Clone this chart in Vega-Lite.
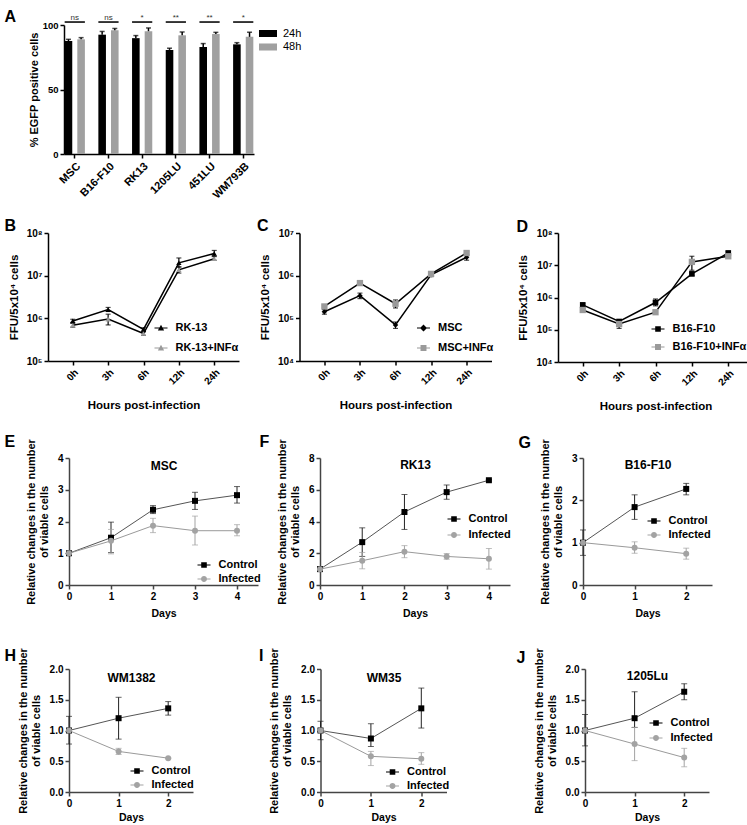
{
"$schema": "https://vega.github.io/schema/vega-lite/v6.json",
"padding": {"left": 3, "top": 8, "right": 0, "bottom": 0},
"config": {
  "font": "Liberation Sans",
  "view": {"stroke": null},
  "axis": {"grid": false, "domainColor": "#000", "domainWidth": 1.5, "tickColor": "#000", "tickWidth": 1.5, "tickSize": 4, "labelFont": "Liberation Sans", "labelFontWeight": "bold", "labelFontSize": 10, "labelColor": "#000", "labelPadding": 2, "labelFlush": false, "titleFont": "Liberation Sans", "titleFontWeight": "bold", "titleFontSize": 11, "titleColor": "#000"},
  "legend": {"labelFont": "Liberation Sans", "labelColor": "#000", "padding": 0}
},
"datasets": {
  "egfp": [
    {"cell": "MSC", "time": "24h", "v": 87.6, "hi": 88.9},
    {"cell": "MSC", "time": "48h", "v": 88.9, "hi": 90.2},
    {"cell": "B16-F10", "time": "24h", "v": 92.5, "hi": 95.0},
    {"cell": "B16-F10", "time": "48h", "v": 96.0, "hi": 97.3},
    {"cell": "RK13", "time": "24h", "v": 89.8, "hi": 91.8},
    {"cell": "RK13", "time": "48h", "v": 95.2, "hi": 97.7},
    {"cell": "1205LU", "time": "24h", "v": 80.7, "hi": 82.0},
    {"cell": "1205LU", "time": "48h", "v": 92.0, "hi": 94.6},
    {"cell": "451LU", "time": "24h", "v": 83.0, "hi": 85.6},
    {"cell": "451LU", "time": "48h", "v": 93.0, "hi": 94.3},
    {"cell": "WM793B", "time": "24h", "v": 85.0, "hi": 86.3},
    {"cell": "WM793B", "time": "48h", "v": 90.8, "hi": 94.4}
  ],
  "sig": [
    {"cell": "MSC", "label": "ns"},
    {"cell": "B16-F10", "label": "ns"},
    {"cell": "RK13", "label": "*"},
    {"cell": "1205LU", "label": "**"},
    {"cell": "451LU", "label": "**"},
    {"cell": "WM793B", "label": "*"}
  ],
  "ffu": [
    {"panel": "B", "series": "RK-13", "time": "0h", "t": 0, "v": 8.7e5, "lo": 8.0e5, "hi": 9.5e5},
    {"panel": "B", "series": "RK-13", "time": "3h", "t": 3, "v": 1.6e6, "lo": 1.45e6, "hi": 1.8e6},
    {"panel": "B", "series": "RK-13", "time": "6h", "t": 6, "v": 5.5e5, "lo": 5.0e5, "hi": 6.0e5},
    {"panel": "B", "series": "RK-13", "time": "12h", "t": 12, "v": 2.0e7, "lo": 1.6e7, "hi": 2.6e7},
    {"panel": "B", "series": "RK-13", "time": "24h", "t": 24, "v": 3.3e7, "lo": 2.9e7, "hi": 3.9e7},
    {"panel": "B", "series": "RK-13+INFα", "time": "0h", "t": 0, "v": 6.9e5, "lo": 6.2e5, "hi": 7.6e5},
    {"panel": "B", "series": "RK-13+INFα", "time": "3h", "t": 3, "v": 9.6e5, "lo": 7.0e5, "hi": 1.25e6},
    {"panel": "B", "series": "RK-13+INFα", "time": "6h", "t": 6, "v": 4.4e5, "lo": 4.0e5, "hi": 4.8e5},
    {"panel": "B", "series": "RK-13+INFα", "time": "12h", "t": 12, "v": 1.37e7, "lo": 1.15e7, "hi": 1.6e7},
    {"panel": "B", "series": "RK-13+INFα", "time": "24h", "t": 24, "v": 2.5e7, "lo": 2.3e7, "hi": 2.8e7},
    {"panel": "C", "series": "MSC", "time": "0h", "t": 0, "v": 1.43e5, "lo": 1.25e5, "hi": 1.6e5},
    {"panel": "C", "series": "MSC", "time": "3h", "t": 3, "v": 3.4e5, "lo": 2.9e5, "hi": 3.9e5},
    {"panel": "C", "series": "MSC", "time": "6h", "t": 6, "v": 7.0e4, "lo": 5.8e4, "hi": 8.2e4},
    {"panel": "C", "series": "MSC", "time": "12h", "t": 12, "v": 1.05e6, "lo": 9.5e5, "hi": 1.15e6},
    {"panel": "C", "series": "MSC", "time": "24h", "t": 24, "v": 2.7e6, "lo": 2.3e6, "hi": 3.1e6},
    {"panel": "C", "series": "MSC+INFα", "time": "0h", "t": 0, "v": 1.9e5, "lo": 1.75e5, "hi": 2.05e5},
    {"panel": "C", "series": "MSC+INFα", "time": "3h", "t": 3, "v": 6.7e5, "lo": 6.0e5, "hi": 7.5e5},
    {"panel": "C", "series": "MSC+INFα", "time": "6h", "t": 6, "v": 2.2e5, "lo": 1.75e5, "hi": 2.7e5},
    {"panel": "C", "series": "MSC+INFα", "time": "12h", "t": 12, "v": 1.1e6, "lo": 1.0e6, "hi": 1.2e6},
    {"panel": "C", "series": "MSC+INFα", "time": "24h", "t": 24, "v": 3.4e6, "lo": 3.1e6, "hi": 3.7e6},
    {"panel": "D", "series": "B16-F10", "time": "0h", "t": 0, "v": 5.9e5, "lo": 5.5e5, "hi": 6.4e5},
    {"panel": "D", "series": "B16-F10", "time": "3h", "t": 3, "v": 1.8e5, "lo": 1.55e5, "hi": 2.05e5},
    {"panel": "D", "series": "B16-F10", "time": "6h", "t": 6, "v": 7.0e5, "lo": 5.5e5, "hi": 9.0e5},
    {"panel": "D", "series": "B16-F10", "time": "12h", "t": 12, "v": 5.4e6, "lo": 4.8e6, "hi": 6.0e6},
    {"panel": "D", "series": "B16-F10", "time": "24h", "t": 24, "v": 2.4e7, "lo": 2.2e7, "hi": 2.7e7},
    {"panel": "D", "series": "B16-F10+INFα", "time": "0h", "t": 0, "v": 4.1e5, "lo": 3.8e5, "hi": 4.5e5},
    {"panel": "D", "series": "B16-F10+INFα", "time": "3h", "t": 3, "v": 1.5e5, "lo": 1.1e5, "hi": 1.9e5},
    {"panel": "D", "series": "B16-F10+INFα", "time": "6h", "t": 6, "v": 3.5e5, "lo": 3.3e5, "hi": 3.8e5},
    {"panel": "D", "series": "B16-F10+INFα", "time": "12h", "t": 12, "v": 1.27e7, "lo": 7.0e6, "hi": 1.9e7},
    {"panel": "D", "series": "B16-F10+INFα", "time": "24h", "t": 24, "v": 1.9e7, "lo": 1.75e7, "hi": 2.1e7}
  ],
  "viab": [
    {"panel": "E", "series": "Control", "day": 0, "v": 1},
    {"panel": "E", "series": "Control", "day": 1, "v": 1.49, "lo": 1.02, "hi": 1.98},
    {"panel": "E", "series": "Control", "day": 2, "v": 2.37, "lo": 2.25, "hi": 2.5},
    {"panel": "E", "series": "Control", "day": 3, "v": 2.65, "lo": 2.38, "hi": 2.92},
    {"panel": "E", "series": "Control", "day": 4, "v": 2.83, "lo": 2.58, "hi": 3.1},
    {"panel": "E", "series": "Infected", "day": 0, "v": 1},
    {"panel": "E", "series": "Infected", "day": 1, "v": 1.39, "lo": 0.98, "hi": 1.75},
    {"panel": "E", "series": "Infected", "day": 2, "v": 1.87, "lo": 1.65, "hi": 2.1},
    {"panel": "E", "series": "Infected", "day": 3, "v": 1.71, "lo": 1.26, "hi": 2.17},
    {"panel": "E", "series": "Infected", "day": 4, "v": 1.71, "lo": 1.55, "hi": 1.9},
    {"panel": "F", "series": "Control", "day": 0, "v": 1},
    {"panel": "F", "series": "Control", "day": 1, "v": 2.7, "lo": 1.8, "hi": 3.6},
    {"panel": "F", "series": "Control", "day": 2, "v": 4.6, "lo": 3.5, "hi": 5.7},
    {"panel": "F", "series": "Control", "day": 3, "v": 5.85, "lo": 5.4, "hi": 6.3},
    {"panel": "F", "series": "Control", "day": 4, "v": 6.6, "lo": 6.55, "hi": 6.65},
    {"panel": "F", "series": "Infected", "day": 0, "v": 1},
    {"panel": "F", "series": "Infected", "day": 1, "v": 1.53, "lo": 1.02, "hi": 2.05},
    {"panel": "F", "series": "Infected", "day": 2, "v": 2.1, "lo": 1.72, "hi": 2.48},
    {"panel": "F", "series": "Infected", "day": 3, "v": 1.8, "lo": 1.62, "hi": 1.98},
    {"panel": "F", "series": "Infected", "day": 4, "v": 1.65, "lo": 1.0, "hi": 2.3},
    {"panel": "G", "series": "Control", "day": 0, "v": 1, "lo": 0.7, "hi": 1.3},
    {"panel": "G", "series": "Control", "day": 1, "v": 1.84, "lo": 1.55, "hi": 2.13},
    {"panel": "G", "series": "Control", "day": 2, "v": 2.27, "lo": 2.13, "hi": 2.4},
    {"panel": "G", "series": "Infected", "day": 0, "v": 1},
    {"panel": "G", "series": "Infected", "day": 1, "v": 0.88, "lo": 0.75, "hi": 1.02},
    {"panel": "G", "series": "Infected", "day": 2, "v": 0.74, "lo": 0.61, "hi": 0.87},
    {"panel": "H", "series": "Control", "day": 0, "v": 1, "lo": 0.78, "hi": 1.23},
    {"panel": "H", "series": "Control", "day": 1, "v": 1.2, "lo": 0.86, "hi": 1.54},
    {"panel": "H", "series": "Control", "day": 2, "v": 1.36, "lo": 1.25, "hi": 1.47},
    {"panel": "H", "series": "Infected", "day": 0, "v": 1},
    {"panel": "H", "series": "Infected", "day": 1, "v": 0.66, "lo": 0.61, "hi": 0.71},
    {"panel": "H", "series": "Infected", "day": 2, "v": 0.55, "lo": 0.54, "hi": 0.56},
    {"panel": "I", "series": "Control", "day": 0, "v": 1, "lo": 0.85, "hi": 1.15},
    {"panel": "I", "series": "Control", "day": 1, "v": 0.87, "lo": 0.74, "hi": 1.11},
    {"panel": "I", "series": "Control", "day": 2, "v": 1.36, "lo": 1.04, "hi": 1.69},
    {"panel": "I", "series": "Infected", "day": 0, "v": 1},
    {"panel": "I", "series": "Infected", "day": 1, "v": 0.58, "lo": 0.43, "hi": 0.66},
    {"panel": "I", "series": "Infected", "day": 2, "v": 0.54, "lo": 0.45, "hi": 0.64},
    {"panel": "J", "series": "Control", "day": 0, "v": 1, "lo": 0.75, "hi": 1.26},
    {"panel": "J", "series": "Control", "day": 1, "v": 1.2, "lo": 1.05, "hi": 1.63},
    {"panel": "J", "series": "Control", "day": 2, "v": 1.63, "lo": 1.5, "hi": 1.76},
    {"panel": "J", "series": "Infected", "day": 0, "v": 1},
    {"panel": "J", "series": "Infected", "day": 1, "v": 0.78, "lo": 0.51, "hi": 1.05},
    {"panel": "J", "series": "Infected", "day": 2, "v": 0.56, "lo": 0.41, "hi": 0.71}
  ]
},
"resolve": {"scale": {"color": "independent", "shape": "independent"}},
"spacing": 21,
"vconcat": [
 {"resolve": {"scale": {"color": "independent", "shape": "independent"}},
  "spacing": 16,
  "vconcat": [
   {"resolve": {"scale": {"color": "independent", "shape": "independent"}},
    "spacing": 0,
    "hconcat": [
     {"width": 1, "height": 1, "data": {"values": []}, "mark": "point"},
     {"width": 190, "height": 129,
      "data": {"name": "egfp"},
      "resolve": {"axis": {"x": "independent"}},
      "layer": [
       {"mark": {"type": "bar"},
        "encoding": {
         "x": {"field": "cell", "type": "nominal", "sort": ["MSC","B16-F10","RK13","1205LU","451LU","WM793B"], "scale": {"paddingInner": 0.4, "paddingOuter": 0.02}, "title": null, "axis": {"labelAngle": -45, "labelFontSize": 11}},
         "xOffset": {"field": "time", "type": "nominal", "scale": {"domain": ["24h","48h"], "paddingInner": 0.4}},
         "y": {"field": "v", "type": "quantitative", "scale": {"domain": [0,100], "nice": false}, "title": "% EGFP positive cells", "axis": {"values": [0,50,100], "labelFontSize": 9.5, "titlePadding": 3}},
         "color": {"field": "time", "type": "nominal", "scale": {"domain": ["24h","48h"], "range": ["#000000","#a0a0a0"]},
          "legend": {"orient": "none", "legendX": 198.5, "legendY": 3, "title": null, "symbolType": "M-2,-0.78H2V0.78H-2Z", "symbolSize": 81, "symbolStrokeWidth": 0, "labelFontSize": 11, "labelFontWeight": "normal", "labelOffset": 9.5, "rowPadding": 1.5}}
        }},
       {"mark": {"type": "rule", "color": "#000", "strokeWidth": 1.5},
        "encoding": {
         "x": {"field": "cell", "type": "nominal", "sort": ["MSC","B16-F10","RK13","1205LU","451LU","WM793B"], "axis": null},
         "xOffset": {"field": "time", "type": "nominal", "scale": {"domain": ["24h","48h"], "paddingInner": 0.4}},
         "y": {"field": "v", "type": "quantitative", "title": "% EGFP positive cells"},
         "y2": {"field": "hi"}
        }},
       {"mark": {"type": "tick", "color": "#000", "thickness": 1.5, "size": 5},
        "encoding": {
         "x": {"field": "cell", "type": "nominal", "sort": ["MSC","B16-F10","RK13","1205LU","451LU","WM793B"], "axis": null},
         "xOffset": {"field": "time", "type": "nominal", "scale": {"domain": ["24h","48h"], "paddingInner": 0.4}},
         "y": {"field": "hi", "type": "quantitative", "title": "% EGFP positive cells"}
        }},
       {"data": {"name": "sig"},
        "mark": {"type": "bar", "color": "#000"},
        "encoding": {
         "x": {"field": "cell", "type": "nominal", "sort": ["MSC","B16-F10","RK13","1205LU","451LU","WM793B"], "axis": null},
         "y": {"datum": 101.7, "type": "quantitative", "title": "% EGFP positive cells"},
         "y2": {"datum": 102.9}
        }},
       {"data": {"name": "sig"},
        "mark": {"type": "text", "fontSize": 8, "baseline": "alphabetic", "color": "#333333"},
        "encoding": {
         "x": {"field": "cell", "type": "nominal", "sort": ["MSC","B16-F10","RK13","1205LU","451LU","WM793B"], "axis": {"orient": "top", "domain": false, "ticks": false, "labels": false, "title": "A", "titleX": -60, "titleY": -4, "titleAngle": 0, "titleAlign": "left", "titleBaseline": "alphabetic", "titleFontSize": 16}},
         "y": {"datum": 104, "type": "quantitative", "title": "% EGFP positive cells"},
         "text": {"field": "label"}
        }}
      ]
     }
    ]
   },
   {"resolve": {"scale": {"color": "independent", "shape": "independent"}},
    "spacing": 0,
    "hconcat": [
     {"width": 1, "height": 1, "data": {"values": []}, "mark": "point"},
     {"resolve": {"scale": {"color": "independent", "shape": "independent"}},
      "spacing": 22,
      "hconcat": [
       {"resolve": {"scale": {"color": "independent", "shape": "independent"}},
        "spacing": 17.5,
        "hconcat": [
         {"width": 191, "height": 128,
          "data": {"name": "ffu"},
          "transform": [{"filter": "datum.panel === 'B'"}],
          "resolve": {"axis": {"x": "independent"}},
          "layer": [
           {"mark": {"type": "line", "color": "#000", "strokeWidth": 1.5},
            "encoding": {
             "x": {"field": "time", "type": "ordinal", "sort": ["0h","3h","6h","12h","24h"], "scale": {"type": "point", "padding": 0.7}, "axis": {"labelAngle": -45, "title": "Hours post-infection", "titleFontSize": 11.5, "titlePadding": 13}},
             "y": {"field": "v", "type": "quantitative", "scale": {"type": "log", "domain": [1e5, 1e8], "nice": false}, "title": "FFU/5x10⁴ cells", "axis": {"values": [1e5, 1e6, 1e7, 1e8], "labelExpr": "'10' + ['⁰','¹','²','³','⁴','⁵','⁶','⁷','⁸','⁹'][round(log(datum.value)/LN10)]", "titleFontSize": 11.5, "titlePadding": 7}},
             "detail": {"field": "series", "type": "nominal"}, "order": {"field": "t", "type": "quantitative"}}},
           {"mark": {"type": "errorbar", "color": "#000", "ticks": {"size": 5}, "thickness": 1.2},
            "encoding": {
             "x": {"field": "time", "type": "ordinal", "sort": ["0h","3h","6h","12h","24h"], "axis": null},
             "y": {"field": "lo", "type": "quantitative", "title": "FFU/5x10⁴ cells"}, "y2": {"field": "hi"}}},
           {"transform": [{"filter": "datum.series === 'RK-13'"}],
            "mark": {"type": "point", "filled": true, "opacity": 1, "size": 28, "shape": "triangle-up", "color": "#000000"},
            "encoding": {
             "x": {"field": "time", "type": "ordinal", "sort": ["0h","3h","6h","12h","24h"], "axis": {"orient": "top", "domain": false, "ticks": false, "labels": false, "title": "B", "titleX": -44, "titleY": -3, "titleAngle": 0, "titleAlign": "left", "titleBaseline": "alphabetic", "titleFontSize": 16}},
             "y": {"field": "v", "type": "quantitative", "title": "FFU/5x10⁴ cells"}}},
           {"transform": [{"filter": "datum.series === 'RK-13+INFα'"}],
            "mark": {"type": "point", "filled": true, "opacity": 1, "size": 28, "shape": "triangle-up", "color": "#9a9a9a"},
            "encoding": {
             "x": {"field": "time", "type": "ordinal", "sort": ["0h","3h","6h","12h","24h"], "axis": null},
             "y": {"field": "v", "type": "quantitative", "title": "FFU/5x10⁴ cells"}}},
           {"transform": [{"filter": "false"}],
            "mark": {"type": "point", "filled": true, "opacity": 1},
            "encoding": {
             "shape": {"field": "series", "type": "nominal", "scale": {"domain": ["RK-13","RK-13+INFα"], "range": ["M-1.86,-0.17H1.86V0.17H-1.86Z M0,-0.95L0.9,0.7H-0.9Z","M-1.86,-0.17H1.86V0.17H-1.86Z M0,-0.95L0.9,0.7H-0.9Z"]}, "legend": null},
             "color": {"field": "series", "type": "nominal", "scale": {"domain": ["RK-13","RK-13+INFα"], "range": ["#000000","#9a9a9a"]},
              "legend": {"orient": "none", "legendX": 107.5, "legendY": 89.5, "title": null, "labelFontSize": 11, "labelFontWeight": "bold", "symbolSize": 49, "symbolStrokeWidth": 0, "rowPadding": 8, "labelOffset": 9}}}}
          ]
         },
         {"width": 192, "height": 128,
          "data": {"name": "ffu"},
          "transform": [{"filter": "datum.panel === 'C'"}],
          "resolve": {"axis": {"x": "independent"}},
          "layer": [
           {"mark": {"type": "line", "color": "#000", "strokeWidth": 1.5},
            "encoding": {
             "x": {"field": "time", "type": "ordinal", "sort": ["0h","3h","6h","12h","24h"], "scale": {"type": "point", "padding": 0.7}, "axis": {"labelAngle": -45, "title": "Hours post-infection", "titleFontSize": 11.5, "titlePadding": 13}},
             "y": {"field": "v", "type": "quantitative", "scale": {"type": "log", "domain": [1e4, 1e7], "nice": false}, "title": "FFU/5x10⁴ cells", "axis": {"values": [1e4, 1e5, 1e6, 1e7], "labelExpr": "'10' + ['⁰','¹','²','³','⁴','⁵','⁶','⁷','⁸','⁹'][round(log(datum.value)/LN10)]", "titleFontSize": 11.5, "titlePadding": 7}},
             "detail": {"field": "series", "type": "nominal"}, "order": {"field": "t", "type": "quantitative"}}},
           {"mark": {"type": "errorbar", "color": "#000", "ticks": {"size": 5}, "thickness": 1.2},
            "encoding": {
             "x": {"field": "time", "type": "ordinal", "sort": ["0h","3h","6h","12h","24h"], "axis": null},
             "y": {"field": "lo", "type": "quantitative", "title": "FFU/5x10⁴ cells"}, "y2": {"field": "hi"}}},
           {"transform": [{"filter": "datum.series === 'MSC'"}],
            "mark": {"type": "point", "filled": true, "opacity": 1, "size": 30, "shape": "diamond", "color": "#000000"},
            "encoding": {
             "x": {"field": "time", "type": "ordinal", "sort": ["0h","3h","6h","12h","24h"], "axis": {"orient": "top", "domain": false, "ticks": false, "labels": false, "title": "C", "titleX": -43, "titleY": -3, "titleAngle": 0, "titleAlign": "left", "titleBaseline": "alphabetic", "titleFontSize": 16}},
             "y": {"field": "v", "type": "quantitative", "title": "FFU/5x10⁴ cells"}}},
           {"transform": [{"filter": "datum.series === 'MSC+INFα'"}],
            "mark": {"type": "point", "filled": true, "opacity": 1, "size": 40, "shape": "square", "color": "#9a9a9a"},
            "encoding": {
             "x": {"field": "time", "type": "ordinal", "sort": ["0h","3h","6h","12h","24h"], "axis": null},
             "y": {"field": "v", "type": "quantitative", "title": "FFU/5x10⁴ cells"}}},
           {"transform": [{"filter": "false"}],
            "mark": {"type": "point", "filled": true, "opacity": 1},
            "encoding": {
             "shape": {"field": "series", "type": "nominal", "scale": {"domain": ["MSC","MSC+INFα"], "range": ["M-1.86,-0.17H1.86V0.17H-1.86Z M0,-1L1,0L0,1L-1,0Z","M-1.86,-0.17H1.86V0.17H-1.86Z M-0.85,-0.85H0.85V0.85H-0.85Z"]}, "legend": null},
             "color": {"field": "series", "type": "nominal", "scale": {"domain": ["MSC","MSC+INFα"], "range": ["#000000","#9a9a9a"]},
              "legend": {"orient": "none", "legendX": 118.5, "legendY": 89.5, "title": null, "labelFontSize": 11, "labelFontWeight": "bold", "symbolSize": 49, "symbolStrokeWidth": 0, "rowPadding": 8, "labelOffset": 9}}}}
          ]
         }
        ]
       },
       {"width": 195, "height": 129,
        "data": {"name": "ffu"},
        "transform": [{"filter": "datum.panel === 'D'"}],
        "resolve": {"axis": {"x": "independent"}},
        "layer": [
         {"mark": {"type": "line", "color": "#000", "strokeWidth": 1.5},
          "encoding": {
           "x": {"field": "time", "type": "ordinal", "sort": ["0h","3h","6h","12h","24h"], "scale": {"type": "point", "padding": 0.68}, "axis": {"labelAngle": -45, "title": "Hours post-infection", "titleFontSize": 11.5, "titlePadding": 13}},
           "y": {"field": "v", "type": "quantitative", "scale": {"type": "log", "domain": [1e4, 1e8], "nice": false}, "title": "FFU/5x10⁴ cells", "axis": {"values": [1e4, 1e5, 1e6, 1e7, 1e8], "labelExpr": "'10' + ['⁰','¹','²','³','⁴','⁵','⁶','⁷','⁸','⁹'][round(log(datum.value)/LN10)]", "titleFontSize": 11.5, "titlePadding": 7}},
           "detail": {"field": "series", "type": "nominal"}, "order": {"field": "t", "type": "quantitative"}}},
         {"mark": {"type": "errorbar", "color": "#000", "ticks": {"size": 5}, "thickness": 1.2},
          "encoding": {
           "x": {"field": "time", "type": "ordinal", "sort": ["0h","3h","6h","12h","24h"], "axis": null},
           "y": {"field": "lo", "type": "quantitative", "title": "FFU/5x10⁴ cells"}, "y2": {"field": "hi"}}},
         {"transform": [{"filter": "datum.series === 'B16-F10'"}],
          "mark": {"type": "point", "filled": true, "opacity": 1, "size": 32, "shape": "square", "color": "#000000"},
          "encoding": {
           "x": {"field": "time", "type": "ordinal", "sort": ["0h","3h","6h","12h","24h"], "axis": {"orient": "top", "domain": false, "ticks": false, "labels": false, "title": "D", "titleX": -42, "titleY": -2, "titleAngle": 0, "titleAlign": "left", "titleBaseline": "alphabetic", "titleFontSize": 16}},
           "y": {"field": "v", "type": "quantitative", "title": "FFU/5x10⁴ cells"}}},
         {"transform": [{"filter": "datum.series === 'B16-F10+INFα'"}],
          "mark": {"type": "point", "filled": true, "opacity": 1, "size": 40, "shape": "square", "color": "#9a9a9a"},
          "encoding": {
           "x": {"field": "time", "type": "ordinal", "sort": ["0h","3h","6h","12h","24h"], "axis": null},
           "y": {"field": "v", "type": "quantitative", "title": "FFU/5x10⁴ cells"}}},
         {"transform": [{"filter": "false"}],
          "mark": {"type": "point", "filled": true, "opacity": 1},
          "encoding": {
           "shape": {"field": "series", "type": "nominal", "scale": {"domain": ["B16-F10","B16-F10+INFα"], "range": ["M-1.86,-0.17H1.86V0.17H-1.86Z M-0.8,-0.8H0.8V0.8H-0.8Z","M-1.86,-0.17H1.86V0.17H-1.86Z M-0.85,-0.85H0.85V0.85H-0.85Z"]}, "legend": null},
           "color": {"field": "series", "type": "nominal", "scale": {"domain": ["B16-F10","B16-F10+INFα"], "range": ["#000000","#9a9a9a"]},
            "legend": {"orient": "none", "legendX": 94.5, "legendY": 90.5, "title": null, "labelFontSize": 11, "labelFontWeight": "bold", "symbolSize": 49, "symbolStrokeWidth": 0, "rowPadding": 6, "labelOffset": 9}}}}
        ]
       }
      ]
     }
    ]
   }
  ]
 },
 {"resolve": {"scale": {"color": "independent", "shape": "independent"}},
  "spacing": 28,
  "vconcat": [
   {"resolve": {"scale": {"color": "independent", "shape": "independent"}},
    "spacing": 0,
    "hconcat": [
     {"width": 1, "height": 1, "data": {"values": []}, "mark": "point"},
     {"resolve": {"scale": {"color": "independent", "shape": "independent"}},
      "spacing": 6,
      "hconcat": [
       {"resolve": {"scale": {"color": "independent", "shape": "independent"}},
        "spacing": -3,
        "hconcat": [
         {"width": 189, "height": 127,
          "data": {"name": "viab"},
          "transform": [{"filter": "datum.panel === 'E'"}],
          "resolve": {"axis": {"x": "independent", "y": "independent"}},
          "layer": [
           {"transform": [{"filter": "datum.series === 'Control'"}],
            "mark": {"type": "line", "color": "#555555", "strokeWidth": 1},
            "encoding": {
             "x": {"field": "day", "type": "quantitative", "scale": {"domain": [0, 4.5], "nice": false}, "axis": {"values": [0,1,2,3,4], "format": "d", "title": "Days", "domainColor": "#444", "tickColor": "#444", "titleFontSize": 10.5, "titlePadding": 7}},
             "y": {"field": "v", "type": "quantitative", "scale": {"domain": [0, 4], "nice": false}, "title": ["Relative changes in the number", "of viable cells"], "axis": {"values": [0,1,2,3,4], "domainColor": "#444", "tickColor": "#444", "titlePadding": 8, "titleLineHeight": 13}}}},
           {"transform": [{"filter": "datum.series === 'Infected'"}],
            "mark": {"type": "line", "color": "#9a9a9a", "strokeWidth": 1},
            "encoding": {"x": {"field": "day", "type": "quantitative", "axis": null}, "y": {"field": "v", "type": "quantitative", "axis": null}}},
           {"transform": [{"filter": "datum.series === 'Control' && isValid(datum.lo)"}],
            "mark": {"type": "errorbar", "color": "#222222", "ticks": {"size": 6}, "thickness": 1},
            "encoding": {"x": {"field": "day", "type": "quantitative", "axis": null}, "y": {"field": "lo", "type": "quantitative", "axis": null}, "y2": {"field": "hi"}}},
           {"transform": [{"filter": "datum.series === 'Infected' && isValid(datum.lo)"}],
            "mark": {"type": "errorbar", "color": "#a3a3a3", "ticks": {"size": 6}, "thickness": 1},
            "encoding": {"x": {"field": "day", "type": "quantitative", "axis": null}, "y": {"field": "lo", "type": "quantitative", "axis": null}, "y2": {"field": "hi"}}},
           {"transform": [{"filter": "datum.series === 'Control'"}],
            "mark": {"type": "point", "filled": true, "opacity": 1, "size": 36, "shape": "square", "color": "#000000"},
            "encoding": {
             "x": {"field": "day", "type": "quantitative", "axis": {"orient": "top", "domain": false, "ticks": false, "labels": false, "title": "MSC", "titleFontSize": 12, "titleY": 11, "titleBaseline": "alphabetic"}},
             "y": {"field": "v", "type": "quantitative", "axis": {"orient": "right", "domain": false, "ticks": false, "labels": false, "title": "E", "titleX": -254, "titleY": -12, "titleAngle": 0, "titleAlign": "left", "titleBaseline": "alphabetic", "titleFontSize": 16}}}},
           {"transform": [{"filter": "datum.series === 'Infected'"}],
            "mark": {"type": "point", "filled": true, "opacity": 1, "size": 36, "shape": "circle", "color": "#a3a3a3"},
            "encoding": {"x": {"field": "day", "type": "quantitative", "axis": null}, "y": {"field": "v", "type": "quantitative", "axis": null}}},
           {"transform": [{"filter": "false"}],
            "mark": {"type": "point", "filled": true, "opacity": 1},
            "encoding": {
             "shape": {"field": "series", "type": "nominal", "scale": {"domain": ["Control","Infected"], "range": ["M-1.86,-0.17H1.86V0.17H-1.86Z M-0.8,-0.8H0.8V0.8H-0.8Z","M-1.86,-0.17H1.86V0.17H-1.86Z M0.85,0A0.85,0.85,0,1,1,-0.85,0A0.85,0.85,0,1,1,0.85,0Z"]}, "legend": null},
             "color": {"field": "series", "type": "nominal", "scale": {"domain": ["Control","Infected"], "range": ["#000000","#a3a3a3"]},
              "legend": {"orient": "none", "legendX": 129.5, "legendY": 101.5, "title": null, "labelFontSize": 11, "labelFontWeight": "bold", "symbolSize": 49, "symbolStrokeWidth": 0, "rowPadding": 2, "labelOffset": 9}}}}
          ]
         },
         {"width": 190, "height": 127,
          "data": {"name": "viab"},
          "transform": [{"filter": "datum.panel === 'F'"}],
          "resolve": {"axis": {"x": "independent", "y": "independent"}},
          "layer": [
           {"transform": [{"filter": "datum.series === 'Control'"}],
            "mark": {"type": "line", "color": "#555555", "strokeWidth": 1},
            "encoding": {
             "x": {"field": "day", "type": "quantitative", "scale": {"domain": [0, 4.5], "nice": false}, "axis": {"values": [0,1,2,3,4], "format": "d", "title": "Days", "domainColor": "#444", "tickColor": "#444", "titleFontSize": 10.5, "titlePadding": 7}},
             "y": {"field": "v", "type": "quantitative", "scale": {"domain": [0, 8], "nice": false}, "title": ["Relative changes in the number", "of viable cells"], "axis": {"values": [0,2,4,6,8], "domainColor": "#444", "tickColor": "#444", "titlePadding": 8, "titleLineHeight": 13}}}},
           {"transform": [{"filter": "datum.series === 'Infected'"}],
            "mark": {"type": "line", "color": "#9a9a9a", "strokeWidth": 1},
            "encoding": {"x": {"field": "day", "type": "quantitative", "axis": null}, "y": {"field": "v", "type": "quantitative", "axis": null}}},
           {"transform": [{"filter": "datum.series === 'Control' && isValid(datum.lo)"}],
            "mark": {"type": "errorbar", "color": "#222222", "ticks": {"size": 6}, "thickness": 1},
            "encoding": {"x": {"field": "day", "type": "quantitative", "axis": null}, "y": {"field": "lo", "type": "quantitative", "axis": null}, "y2": {"field": "hi"}}},
           {"transform": [{"filter": "datum.series === 'Infected' && isValid(datum.lo)"}],
            "mark": {"type": "errorbar", "color": "#a3a3a3", "ticks": {"size": 6}, "thickness": 1},
            "encoding": {"x": {"field": "day", "type": "quantitative", "axis": null}, "y": {"field": "lo", "type": "quantitative", "axis": null}, "y2": {"field": "hi"}}},
           {"transform": [{"filter": "datum.series === 'Control'"}],
            "mark": {"type": "point", "filled": true, "opacity": 1, "size": 36, "shape": "square", "color": "#000000"},
            "encoding": {
             "x": {"field": "day", "type": "quantitative", "axis": {"orient": "top", "domain": false, "ticks": false, "labels": false, "title": "RK13", "titleFontSize": 12, "titleY": 10, "titleBaseline": "alphabetic"}},
             "y": {"field": "v", "type": "quantitative", "axis": {"orient": "right", "domain": false, "ticks": false, "labels": false, "title": "F", "titleX": -251, "titleY": -12, "titleAngle": 0, "titleAlign": "left", "titleBaseline": "alphabetic", "titleFontSize": 16}}}},
           {"transform": [{"filter": "datum.series === 'Infected'"}],
            "mark": {"type": "point", "filled": true, "opacity": 1, "size": 36, "shape": "circle", "color": "#a3a3a3"},
            "encoding": {"x": {"field": "day", "type": "quantitative", "axis": null}, "y": {"field": "v", "type": "quantitative", "axis": null}}},
           {"transform": [{"filter": "false"}],
            "mark": {"type": "point", "filled": true, "opacity": 1},
            "encoding": {
             "shape": {"field": "series", "type": "nominal", "scale": {"domain": ["Control","Infected"], "range": ["M-1.86,-0.17H1.86V0.17H-1.86Z M-0.8,-0.8H0.8V0.8H-0.8Z","M-1.86,-0.17H1.86V0.17H-1.86Z M0.85,0A0.85,0.85,0,1,1,-0.85,0A0.85,0.85,0,1,1,0.85,0Z"]}, "legend": null},
             "color": {"field": "series", "type": "nominal", "scale": {"domain": ["Control","Infected"], "range": ["#000000","#a3a3a3"]},
              "legend": {"orient": "none", "legendX": 128.5, "legendY": 55.5, "title": null, "labelFontSize": 11, "labelFontWeight": "bold", "symbolSize": 49, "symbolStrokeWidth": 0, "rowPadding": 4, "labelOffset": 9}}}}
          ]
         }
        ]
       },
       {"width": 129, "height": 127,
        "data": {"name": "viab"},
        "transform": [{"filter": "datum.panel === 'G'"}],
        "resolve": {"axis": {"x": "independent", "y": "independent"}},
        "layer": [
         {"transform": [{"filter": "datum.series === 'Control'"}],
          "mark": {"type": "line", "color": "#555555", "strokeWidth": 1},
          "encoding": {
           "x": {"field": "day", "type": "quantitative", "scale": {"domain": [0, 2.5], "nice": false}, "axis": {"values": [0,1,2], "format": "d", "title": "Days", "domainColor": "#444", "tickColor": "#444", "titleFontSize": 10.5, "titlePadding": 7}},
           "y": {"field": "v", "type": "quantitative", "scale": {"domain": [0, 3], "nice": false}, "title": ["Relative changes in the number", "of viable cells"], "axis": {"values": [0,1,2,3], "domainColor": "#444", "tickColor": "#444", "titlePadding": 8, "titleLineHeight": 13}}}},
         {"transform": [{"filter": "datum.series === 'Infected'"}],
          "mark": {"type": "line", "color": "#9a9a9a", "strokeWidth": 1},
          "encoding": {"x": {"field": "day", "type": "quantitative", "axis": null}, "y": {"field": "v", "type": "quantitative", "axis": null}}},
         {"transform": [{"filter": "datum.series === 'Control' && isValid(datum.lo)"}],
          "mark": {"type": "errorbar", "color": "#222222", "ticks": {"size": 6}, "thickness": 1},
          "encoding": {"x": {"field": "day", "type": "quantitative", "axis": null}, "y": {"field": "lo", "type": "quantitative", "axis": null}, "y2": {"field": "hi"}}},
         {"transform": [{"filter": "datum.series === 'Infected' && isValid(datum.lo)"}],
          "mark": {"type": "errorbar", "color": "#a3a3a3", "ticks": {"size": 6}, "thickness": 1},
          "encoding": {"x": {"field": "day", "type": "quantitative", "axis": null}, "y": {"field": "lo", "type": "quantitative", "axis": null}, "y2": {"field": "hi"}}},
         {"transform": [{"filter": "datum.series === 'Control'"}],
          "mark": {"type": "point", "filled": true, "opacity": 1, "size": 36, "shape": "square", "color": "#000000"},
          "encoding": {
           "x": {"field": "day", "type": "quantitative", "axis": {"orient": "top", "domain": false, "ticks": false, "labels": false, "title": "B16-F10", "titleFontSize": 12, "titleY": 10, "titleBaseline": "alphabetic"}},
           "y": {"field": "v", "type": "quantitative", "axis": {"orient": "right", "domain": false, "ticks": false, "labels": false, "title": "G", "titleX": -194, "titleY": -11, "titleAngle": 0, "titleAlign": "left", "titleBaseline": "alphabetic", "titleFontSize": 16}}}},
         {"transform": [{"filter": "datum.series === 'Infected'"}],
          "mark": {"type": "point", "filled": true, "opacity": 1, "size": 36, "shape": "circle", "color": "#a3a3a3"},
          "encoding": {"x": {"field": "day", "type": "quantitative", "axis": null}, "y": {"field": "v", "type": "quantitative", "axis": null}}},
         {"transform": [{"filter": "false"}],
          "mark": {"type": "point", "filled": true, "opacity": 1},
          "encoding": {
           "shape": {"field": "series", "type": "nominal", "scale": {"domain": ["Control","Infected"], "range": ["M-1.86,-0.17H1.86V0.17H-1.86Z M-0.8,-0.8H0.8V0.8H-0.8Z","M-1.86,-0.17H1.86V0.17H-1.86Z M0.85,0A0.85,0.85,0,1,1,-0.85,0A0.85,0.85,0,1,1,0.85,0Z"]}, "legend": null},
           "color": {"field": "series", "type": "nominal", "scale": {"domain": ["Control","Infected"], "range": ["#000000","#a3a3a3"]},
            "legend": {"orient": "none", "legendX": 65.5, "legendY": 57.5, "title": null, "labelFontSize": 11, "labelFontWeight": "bold", "symbolSize": 49, "symbolStrokeWidth": 0, "rowPadding": 2, "labelOffset": 9}}}}
        ]
       }
      ]
     }
    ]
   },
   {"resolve": {"scale": {"color": "independent", "shape": "independent"}},
    "spacing": 0,
    "hconcat": [
     {"width": 1, "height": 1, "data": {"values": []}, "mark": "point"},
     {"resolve": {"scale": {"color": "independent", "shape": "independent"}},
      "spacing": 66,
      "hconcat": [
       {"resolve": {"scale": {"color": "independent", "shape": "independent"}},
        "spacing": 63.5,
        "hconcat": [
         {"width": 124, "height": 123,
          "data": {"name": "viab"},
          "transform": [{"filter": "datum.panel === 'H'"}],
          "resolve": {"axis": {"x": "independent", "y": "independent"}},
          "layer": [
           {"transform": [{"filter": "datum.series === 'Control'"}],
            "mark": {"type": "line", "color": "#555555", "strokeWidth": 1},
            "encoding": {
             "x": {"field": "day", "type": "quantitative", "scale": {"domain": [0, 2.5], "nice": false}, "axis": {"values": [0,1,2], "format": "d", "title": "Days", "domainColor": "#444", "tickColor": "#444", "titleFontSize": 10.5, "titlePadding": 4}},
             "y": {"field": "v", "type": "quantitative", "scale": {"domain": [0, 2], "nice": false}, "title": ["Relative changes in the number", "of viable cells"], "axis": {"values": [0,0.5,1,1.5,2], "format": ".1f", "domainColor": "#444", "tickColor": "#444", "titlePadding": 8, "titleLineHeight": 13}}}},
           {"transform": [{"filter": "datum.series === 'Infected'"}],
            "mark": {"type": "line", "color": "#9a9a9a", "strokeWidth": 1},
            "encoding": {"x": {"field": "day", "type": "quantitative", "axis": null}, "y": {"field": "v", "type": "quantitative", "axis": null}}},
           {"transform": [{"filter": "datum.series === 'Control' && isValid(datum.lo)"}],
            "mark": {"type": "errorbar", "color": "#222222", "ticks": {"size": 6}, "thickness": 1},
            "encoding": {"x": {"field": "day", "type": "quantitative", "axis": null}, "y": {"field": "lo", "type": "quantitative", "axis": null}, "y2": {"field": "hi"}}},
           {"transform": [{"filter": "datum.series === 'Infected' && isValid(datum.lo)"}],
            "mark": {"type": "errorbar", "color": "#a3a3a3", "ticks": {"size": 6}, "thickness": 1},
            "encoding": {"x": {"field": "day", "type": "quantitative", "axis": null}, "y": {"field": "lo", "type": "quantitative", "axis": null}, "y2": {"field": "hi"}}},
           {"transform": [{"filter": "datum.series === 'Control'"}],
            "mark": {"type": "point", "filled": true, "opacity": 1, "size": 36, "shape": "square", "color": "#000000"},
            "encoding": {
             "x": {"field": "day", "type": "quantitative", "axis": {"orient": "top", "domain": false, "ticks": false, "labels": false, "title": "WM1382", "titleFontSize": 12, "titleY": 12, "titleBaseline": "alphabetic"}},
             "y": {"field": "v", "type": "quantitative", "axis": {"orient": "right", "domain": false, "ticks": false, "labels": false, "title": "H", "titleX": -189, "titleY": -9, "titleAngle": 0, "titleAlign": "left", "titleBaseline": "alphabetic", "titleFontSize": 16}}}},
           {"transform": [{"filter": "datum.series === 'Infected'"}],
            "mark": {"type": "point", "filled": true, "opacity": 1, "size": 36, "shape": "circle", "color": "#a3a3a3"},
            "encoding": {"x": {"field": "day", "type": "quantitative", "axis": null}, "y": {"field": "v", "type": "quantitative", "axis": null}}},
           {"transform": [{"filter": "false"}],
            "mark": {"type": "point", "filled": true, "opacity": 1},
            "encoding": {
             "shape": {"field": "series", "type": "nominal", "scale": {"domain": ["Control","Infected"], "range": ["M-1.86,-0.17H1.86V0.17H-1.86Z M-0.8,-0.8H0.8V0.8H-0.8Z","M-1.86,-0.17H1.86V0.17H-1.86Z M0.85,0A0.85,0.85,0,1,1,-0.85,0A0.85,0.85,0,1,1,0.85,0Z"]}, "legend": null},
             "color": {"field": "series", "type": "nominal", "scale": {"domain": ["Control","Infected"], "range": ["#000000","#a3a3a3"]},
              "legend": {"orient": "none", "legendX": 62.5, "legendY": 96.5, "title": null, "labelFontSize": 11, "labelFontWeight": "bold", "symbolSize": 49, "symbolStrokeWidth": 0, "rowPadding": 2, "labelOffset": 9}}}}
          ]
         },
         {"width": 126, "height": 123,
          "data": {"name": "viab"},
          "transform": [{"filter": "datum.panel === 'I'"}],
          "resolve": {"axis": {"x": "independent", "y": "independent"}},
          "layer": [
           {"transform": [{"filter": "datum.series === 'Control'"}],
            "mark": {"type": "line", "color": "#555555", "strokeWidth": 1},
            "encoding": {
             "x": {"field": "day", "type": "quantitative", "scale": {"domain": [0, 2.5], "nice": false}, "axis": {"values": [0,1,2], "format": "d", "title": "Days", "domainColor": "#444", "tickColor": "#444", "titleFontSize": 10.5, "titlePadding": 4}},
             "y": {"field": "v", "type": "quantitative", "scale": {"domain": [0, 2], "nice": false}, "title": ["Relative changes in the number", "of viable cells"], "axis": {"values": [0,0.5,1,1.5,2], "format": ".1f", "domainColor": "#444", "tickColor": "#444", "titlePadding": 8, "titleLineHeight": 13}}}},
           {"transform": [{"filter": "datum.series === 'Infected'"}],
            "mark": {"type": "line", "color": "#9a9a9a", "strokeWidth": 1},
            "encoding": {"x": {"field": "day", "type": "quantitative", "axis": null}, "y": {"field": "v", "type": "quantitative", "axis": null}}},
           {"transform": [{"filter": "datum.series === 'Control' && isValid(datum.lo)"}],
            "mark": {"type": "errorbar", "color": "#222222", "ticks": {"size": 6}, "thickness": 1},
            "encoding": {"x": {"field": "day", "type": "quantitative", "axis": null}, "y": {"field": "lo", "type": "quantitative", "axis": null}, "y2": {"field": "hi"}}},
           {"transform": [{"filter": "datum.series === 'Infected' && isValid(datum.lo)"}],
            "mark": {"type": "errorbar", "color": "#a3a3a3", "ticks": {"size": 6}, "thickness": 1},
            "encoding": {"x": {"field": "day", "type": "quantitative", "axis": null}, "y": {"field": "lo", "type": "quantitative", "axis": null}, "y2": {"field": "hi"}}},
           {"transform": [{"filter": "datum.series === 'Control'"}],
            "mark": {"type": "point", "filled": true, "opacity": 1, "size": 36, "shape": "square", "color": "#000000"},
            "encoding": {
             "x": {"field": "day", "type": "quantitative", "axis": {"orient": "top", "domain": false, "ticks": false, "labels": false, "title": "WM35", "titleFontSize": 12, "titleY": 12, "titleBaseline": "alphabetic"}},
             "y": {"field": "v", "type": "quantitative", "axis": {"orient": "right", "domain": false, "ticks": false, "labels": false, "title": "I", "titleX": -188, "titleY": -9, "titleAngle": 0, "titleAlign": "left", "titleBaseline": "alphabetic", "titleFontSize": 16}}}},
           {"transform": [{"filter": "datum.series === 'Infected'"}],
            "mark": {"type": "point", "filled": true, "opacity": 1, "size": 36, "shape": "circle", "color": "#a3a3a3"},
            "encoding": {"x": {"field": "day", "type": "quantitative", "axis": null}, "y": {"field": "v", "type": "quantitative", "axis": null}}},
           {"transform": [{"filter": "false"}],
            "mark": {"type": "point", "filled": true, "opacity": 1},
            "encoding": {
             "shape": {"field": "series", "type": "nominal", "scale": {"domain": ["Control","Infected"], "range": ["M-1.86,-0.17H1.86V0.17H-1.86Z M-0.8,-0.8H0.8V0.8H-0.8Z","M-1.86,-0.17H1.86V0.17H-1.86Z M0.85,0A0.85,0.85,0,1,1,-0.85,0A0.85,0.85,0,1,1,0.85,0Z"]}, "legend": null},
             "color": {"field": "series", "type": "nominal", "scale": {"domain": ["Control","Infected"], "range": ["#000000","#a3a3a3"]},
              "legend": {"orient": "none", "legendX": 66.5, "legendY": 97.5, "title": null, "labelFontSize": 11, "labelFontWeight": "bold", "symbolSize": 49, "symbolStrokeWidth": 0, "rowPadding": 2, "labelOffset": 9}}}}
          ]
         }
        ]
       },
       {"width": 124, "height": 123,
        "data": {"name": "viab"},
        "transform": [{"filter": "datum.panel === 'J'"}],
        "resolve": {"axis": {"x": "independent", "y": "independent"}},
        "layer": [
         {"transform": [{"filter": "datum.series === 'Control'"}],
          "mark": {"type": "line", "color": "#555555", "strokeWidth": 1},
          "encoding": {
           "x": {"field": "day", "type": "quantitative", "scale": {"domain": [0, 2.5], "nice": false}, "axis": {"values": [0,1,2], "format": "d", "title": "Days", "domainColor": "#444", "tickColor": "#444", "titleFontSize": 10.5, "titlePadding": 4}},
           "y": {"field": "v", "type": "quantitative", "scale": {"domain": [0, 2], "nice": false}, "title": ["Relative changes in the number", "of viable cells"], "axis": {"values": [0,0.5,1,1.5,2], "format": ".1f", "domainColor": "#444", "tickColor": "#444", "titlePadding": 8, "titleLineHeight": 13}}}},
         {"transform": [{"filter": "datum.series === 'Infected'"}],
          "mark": {"type": "line", "color": "#9a9a9a", "strokeWidth": 1},
          "encoding": {"x": {"field": "day", "type": "quantitative", "axis": null}, "y": {"field": "v", "type": "quantitative", "axis": null}}},
         {"transform": [{"filter": "datum.series === 'Control' && isValid(datum.lo)"}],
          "mark": {"type": "errorbar", "color": "#222222", "ticks": {"size": 6}, "thickness": 1},
          "encoding": {"x": {"field": "day", "type": "quantitative", "axis": null}, "y": {"field": "lo", "type": "quantitative", "axis": null}, "y2": {"field": "hi"}}},
         {"transform": [{"filter": "datum.series === 'Infected' && isValid(datum.lo)"}],
          "mark": {"type": "errorbar", "color": "#a3a3a3", "ticks": {"size": 6}, "thickness": 1},
          "encoding": {"x": {"field": "day", "type": "quantitative", "axis": null}, "y": {"field": "lo", "type": "quantitative", "axis": null}, "y2": {"field": "hi"}}},
         {"transform": [{"filter": "datum.series === 'Control'"}],
          "mark": {"type": "point", "filled": true, "opacity": 1, "size": 36, "shape": "square", "color": "#000000"},
          "encoding": {
           "x": {"field": "day", "type": "quantitative", "axis": {"orient": "top", "domain": false, "ticks": false, "labels": false, "title": "1205Lu", "titleFontSize": 12, "titleY": 10, "titleBaseline": "alphabetic"}},
           "y": {"field": "v", "type": "quantitative", "axis": {"orient": "right", "domain": false, "ticks": false, "labels": false, "title": "J", "titleX": -193, "titleY": -7, "titleAngle": 0, "titleAlign": "left", "titleBaseline": "alphabetic", "titleFontSize": 16}}}},
         {"transform": [{"filter": "datum.series === 'Infected'"}],
          "mark": {"type": "point", "filled": true, "opacity": 1, "size": 36, "shape": "circle", "color": "#a3a3a3"},
          "encoding": {"x": {"field": "day", "type": "quantitative", "axis": null}, "y": {"field": "v", "type": "quantitative", "axis": null}}},
         {"transform": [{"filter": "false"}],
          "mark": {"type": "point", "filled": true, "opacity": 1},
          "encoding": {
           "shape": {"field": "series", "type": "nominal", "scale": {"domain": ["Control","Infected"], "range": ["M-1.86,-0.17H1.86V0.17H-1.86Z M-0.8,-0.8H0.8V0.8H-0.8Z","M-1.86,-0.17H1.86V0.17H-1.86Z M0.85,0A0.85,0.85,0,1,1,-0.85,0A0.85,0.85,0,1,1,0.85,0Z"]}, "legend": null},
           "color": {"field": "series", "type": "nominal", "scale": {"domain": ["Control","Infected"], "range": ["#000000","#a3a3a3"]},
            "legend": {"orient": "none", "legendX": 65.5, "legendY": 48.5, "title": null, "labelFontSize": 11, "labelFontWeight": "bold", "symbolSize": 49, "symbolStrokeWidth": 0, "rowPadding": 3, "labelOffset": 9}}}}
        ]
       }
      ]
     }
    ]
   }
  ]
 }
]
}
